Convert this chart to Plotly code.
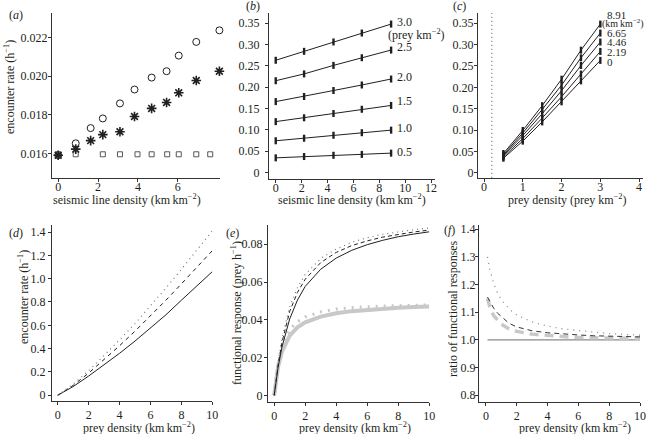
import plotly.graph_objects as go

W, H = 647, 434
FONT = "Liberation Serif"
INK = "#231f20"

# (a) encounter rate vs seismic line density
a_x = [0, 0.88, 1.63, 2.24, 3.10, 3.83, 4.69, 5.44, 6.05, 6.93, 8.09]
a_circle = [0.0159, 0.01652, 0.01731, 0.01781, 0.01859, 0.01931, 0.01993, 0.02026, 0.02107, 0.02178, 0.02238]
a_star = [0.0159, 0.01622, 0.01666, 0.01697, 0.01712, 0.01791, 0.01833, 0.01864, 0.01914, 0.01978, 0.02026]
a_sq_x = [0, 0.88, 2.24, 3.10, 3.98, 4.69, 5.47, 6.05, 6.93, 7.63]
a_square = [0.01595] * 10

# (b)/(c) functional response table: rows = prey density, cols = seismic line density
prey_dens = [0.5, 1.0, 1.5, 2.0, 2.5, 3.0]
seis_dens = [0, 2.19, 4.46, 6.65, 8.91]
resp = [
    [0.034, 0.037, 0.040, 0.042, 0.045],
    [0.074, 0.080, 0.087, 0.093, 0.099],
    [0.119, 0.128, 0.138, 0.148, 0.157],
    [0.166, 0.178, 0.192, 0.205, 0.219],
    [0.215, 0.231, 0.251, 0.269, 0.287],
    [0.263, 0.284, 0.306, 0.327, 0.348],
]
prey_labels = ["0.5", "1.0", "1.5", "2.0", "2.5", "3.0"]
seis_labels = ["0", "2.19", "4.46", "6.65", "8.91"]

# (d) encounter rate vs prey density
d_x = [0, 1, 2, 3, 4, 5, 6, 7, 8, 9, 10]
d_solid = [0, 0.075, 0.165, 0.26, 0.36, 0.465, 0.575, 0.69, 0.815, 0.935, 1.06]
d_dash = [0, 0.085, 0.19, 0.305, 0.425, 0.55, 0.68, 0.815, 0.955, 1.095, 1.24]
d_dot = [0, 0.095, 0.21, 0.34, 0.475, 0.615, 0.765, 0.92, 1.08, 1.245, 1.41]

# (e) functional responses
e_x = [0, 0.25, 0.5, 1, 1.5, 2, 3, 4, 5, 6, 7, 8, 9, 10]
e_solid = [0, 0.0148, 0.0256, 0.0405, 0.0505, 0.0577, 0.0668, 0.0727, 0.0768, 0.0798, 0.0821, 0.0840, 0.0854, 0.0866]
e_dash = [0, 0.016, 0.028, 0.0445, 0.0545, 0.0615, 0.0703, 0.0757, 0.0793, 0.0818, 0.0838, 0.0853, 0.0865, 0.0875]
e_dot = [0, 0.017, 0.030, 0.047, 0.057, 0.064, 0.0725, 0.0775, 0.081, 0.0835, 0.0853, 0.0866, 0.0877, 0.0886]
e_grey = [0, 0.0151, 0.0231, 0.0316, 0.0360, 0.0387, 0.0417, 0.0435, 0.0446, 0.0453, 0.0460, 0.0464, 0.0468, 0.0470]
e_grey_dot = [0, 0.017, 0.026, 0.035, 0.039, 0.0415, 0.0442, 0.0457, 0.0465, 0.0470, 0.0473, 0.0475, 0.0477, 0.0479]

# (f) ratio of functional responses
f_x = [0.1, 0.25, 0.5, 0.75, 1, 1.5, 2, 3, 4, 5, 6, 7, 8, 9, 10]
f_one = [1.0] * 15
f_dot = [1.30, 1.255, 1.205, 1.17, 1.145, 1.112, 1.09, 1.065, 1.05, 1.04, 1.034, 1.028, 1.023, 1.02, 1.017]
f_dash = [1.155, 1.14, 1.115, 1.097, 1.085, 1.06, 1.047, 1.033, 1.026, 1.021, 1.018, 1.015, 1.013, 1.012, 1.011]
f_grey_dash = [1.15, 1.12, 1.088, 1.07, 1.057, 1.04, 1.031, 1.021, 1.015, 1.012, 1.009, 1.008, 1.007, 1.006, 1.005]


def px(x):
    return x / W


def py(y):
    return 1 - y / H


fig = go.Figure()


def line(xa, ya, x, y, color=INK, width=1, dash="solid"):
    fig.add_trace(go.Scatter(x=x, y=y, mode="lines", xaxis=xa, yaxis=ya,
                             line=dict(color=color, width=width, dash=dash),
                             showlegend=False, hoverinfo="skip"))


# (a)
fig.add_trace(go.Scatter(x=a_sq_x, y=a_square, mode="markers", xaxis="x", yaxis="y",
                         marker=dict(symbol="square-open", size=5, color="#555", line=dict(width=1)),
                         showlegend=False, cliponaxis=False))
fig.add_trace(go.Scatter(x=a_x, y=a_circle, mode="markers", xaxis="x", yaxis="y",
                         marker=dict(symbol="circle-open", size=7, color=INK, line=dict(width=1)),
                         showlegend=False, cliponaxis=False))
fig.add_trace(go.Scatter(x=a_x, y=a_star, mode="markers", xaxis="x", yaxis="y",
                         marker=dict(symbol="asterisk-open", size=8, color=INK, line=dict(width=1.6)),
                         showlegend=False, cliponaxis=False))

# (b)
for row in resp:
    fig.add_trace(go.Scatter(x=seis_dens, y=row, mode="lines+markers", xaxis="x2", yaxis="y2",
                             line=dict(color=INK, width=1),
                             marker=dict(symbol="line-ns-open", size=5, color=INK, line=dict(width=2.4)),
                             showlegend=False))

# (c)
for j in range(len(seis_dens)):
    col = [r[j] for r in resp]
    fig.add_trace(go.Scatter(x=prey_dens, y=col, mode="lines+markers", xaxis="x3", yaxis="y3",
                             line=dict(color=INK, width=1),
                             marker=dict(symbol="line-ns-open", size=5, color=INK, line=dict(width=2.4)),
                             showlegend=False))
line("x3", "y3", [0.2, 0.2], [-0.012, 0.374], color="#555", width=1, dash="1px,3px")

# (d)
line("x4", "y4", d_x, d_solid)
line("x4", "y4", d_x, d_dash, dash="4px,4px")
line("x4", "y4", d_x, d_dot, color="#777", width=1.2, dash="1px,4px")

# (e)
line("x5", "y5", e_x, e_grey, color="#c8c8c8", width=4)
line("x5", "y5", e_x, e_grey_dot, color="#c8c8c8", width=3, dash="2px,6px")
line("x5", "y5", e_x, e_dot, color="#777", width=1.2, dash="1px,4px")
line("x5", "y5", e_x, e_dash, dash="4px,3px")
line("x5", "y5", e_x, e_solid)

# (f)
line("x6", "y6", f_x, f_one, color="#8a8a8a", width=1.3)
line("x6", "y6", f_x, f_grey_dash, color="#c8c8c8", width=3.5, dash="9px,6px")
line("x6", "y6", f_x, f_dot, color="#8a8a8a", width=1.3, dash="1px,5px")
line("x6", "y6", f_x, f_dash, color="#333", width=1, dash="5px,4px")

tickfont = dict(family=FONT, size=12, color=INK)
common = dict(showgrid=False, zeroline=False, showline=True, linecolor="#333", linewidth=1,
              ticks="outside", ticklen=3, tickcolor="#333", tickfont=tickfont,
              fixedrange=True, automargin=False)


def xax(dom, rng, vals, anchor, standoff):
    return dict(domain=[px(dom[0]), px(dom[1])], range=rng, tickvals=vals,
                ticktext=[str(v) for v in vals], anchor=anchor,
                ticklabelstandoff=standoff, **common)


def yax(dom, rng, vals, text, anchor, standoff):
    return dict(domain=[py(dom[1]), py(dom[0])], range=rng, tickvals=vals, ticktext=text,
                anchor=anchor, ticklabelstandoff=standoff, **common)


p35 = [0, 0.05, 0.10, 0.15, 0.20, 0.25, 0.30, 0.35]
p35_t = ["0", "0.05", "0.10", "0.15", "0.20", "0.25", "0.30", "0.35"]

fig.update_layout(
    template="none",
    width=W, height=H, margin=dict(l=0, r=0, t=0, b=0, pad=0),
    plot_bgcolor="white", paper_bgcolor="white",
    font=dict(family=FONT, size=12, color=INK),
    xaxis=xax((52, 220), [-0.31, 8.12], [0, 2, 4, 6], "y", -5),
    yaxis=yax((13, 178), [0.01472, 0.02328], [0.016, 0.018, 0.020, 0.022],
              ["0.016", "0.018", "0.020", "0.022"], "x", -2),
    xaxis2=xax((269, 435), [-0.52, 12.3], [0, 2, 4, 6, 8, 10, 12], "y2", -5),
    yaxis2=yax((13, 179), [-0.0157, 0.374], p35, p35_t, "x2", 3),
    xaxis3=xax((478, 643), [-0.155, 4.1], [0, 1, 2, 3, 4], "y3", -5),
    yaxis3=yax((13, 178), [-0.0124, 0.374], p35, p35_t, "x3", -2),
    xaxis4=xax((52, 212.3), [-0.37, 10], [0, 2, 4, 6, 8, 10], "y4", 0),
    yaxis4=yax((225, 401), [-0.049, 1.46], [0, 0.2, 0.4, 0.6, 0.8, 1.0, 1.2, 1.4],
               ["0", "0.2", "0.4", "0.6", "0.8", "1.0", "1.2", "1.4"], "x4", 0),
    xaxis5=xax((268, 429.3), [-0.4, 10], [0, 2, 4, 6, 8, 10], "y5", 0),
    yaxis5=yax((225, 402), [-0.0035, 0.0902], [0, 0.02, 0.04, 0.06, 0.08],
               ["0", "0.02", "0.04", "0.06", "0.08"], "x5", -1),
    xaxis6=xax((479, 640), [-0.45, 10], [0, 2, 4, 6, 8, 10], "y6", 0),
    yaxis6=yax((225, 402), [0.7756, 1.4155], [0.8, 0.9, 1.0, 1.1, 1.2, 1.3, 1.4],
               ["0.8", "0.9", "1.0", "1.1", "1.2", "1.3", "1.4"], "x6", -3),
)

ann = []


def text(x, y, s, xanchor="center", angle=0, size=12):
    ann.append(dict(x=px(x), y=py(y), xref="paper", yref="paper", text=s, showarrow=False,
                    xanchor=xanchor, yanchor="middle", textangle=angle,
                    font=dict(family=FONT, size=size, color=INK)))


# panel letters
text(7, 15, "(<i>a</i>)", "left")
text(244, 6, "(<i>b</i>)", "left")
text(451, 6, "(<i>c</i>)", "left")
text(7, 233, "(<i>d</i>)", "left")
text(224, 233, "(<i>e</i>)", "left")
text(442, 230, "(<i>f</i>)", "left")

# axis titles
km = "(km\u2009km<sup>\u22122</sup>)"
text(127, 199, "seismic line density " + km)
text(352, 199, "seismic line density " + km)
text(567, 199, "prey density (prey km<sup>\u22122</sup>)")
text(139, 427, "prey density " + km)
text(355, 427, "prey density " + km)
text(575, 427, "prey density " + km)
text(10, 87, "encounter rate (h<sup>\u22121</sup>)", angle=-90)
text(23, 297, "encounter rate (h<sup>\u22121</sup>)", angle=-90)
text(236, 313, "functional response (prey h<sup>\u22121</sup>)", angle=-90)
text(453, 309, "ratio of functional responses", angle=-90)

# (b) line labels
b_label_y = [151.7, 128.3, 100.7, 77.3, 46.7, 22.3]
for s, yy in zip(prey_labels, b_label_y):
    text(395, yy, s, "left")
text(386, 34.3, "(prey km<sup>\u22122</sup>)", "left")

# (c) line labels
c_label_y = [62, 52, 42, 33, 15]
for s, yy in zip(seis_labels, c_label_y):
    text(605, yy, s, "left", size=11)
text(646, 23.5, "(km\u2009km<sup>\u22122</sup>)", "right", size=10)

fig.update_layout(annotations=ann)
# the page's default 8px body margin would push the figure off the window
fig.write_html("out.html", config={"displayModeBar": False},
               post_script="document.body.style.margin='0px';")
